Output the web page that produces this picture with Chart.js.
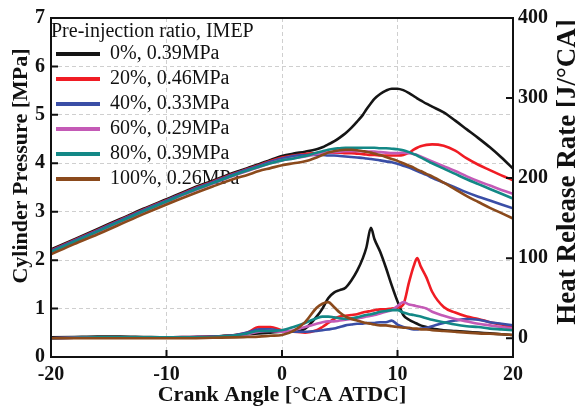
<!DOCTYPE html>
<html>
<head>
<meta charset="utf-8">
<script src="https://cdn.jsdelivr.net/npm/chart.js@4/dist/chart.umd.min.js"></script>
<style>
html,body{margin:0;padding:0;background:#fff;}
#wrap{width:575px;height:410px;position:relative;}
</style>
</head>
<body>
<div id="wrap"><canvas id="c" width="575" height="410"></canvas></div>
<script>
// ---- data ----
const angles = [-20,-18,-16,-14,-12,-10,-8,-6,-4,-3,-2,-1,0,1,2,3,3.5,4,4.5,5,5.5,6,6.5,7,7.3,7.7,8,8.5,9,9.5,10,10.5,11,11.4,11.7,12,12.5,13,14,15,16,17,18,19,20];
const seriesNames = ['0%, 0.39MPa','20%, 0.46MPa','40%, 0.33MPa','60%, 0.29MPa','80%, 0.39MPa','100%, 0.26MPa'];
const seriesColors = ['#151515','#f01c24','#3a4ea6','#c45ab6','#138886','#8b4a1c'];

// Cylinder pressure [MPa]
const p0   = [2.22,2.43,2.64,2.85,3.06,3.26,3.46,3.64,3.82,3.90,3.98,4.07,4.15,4.20,4.24,4.29,4.33,4.39,4.45,4.53,4.62,4.73,4.86,5.00,5.11,5.24,5.33,5.43,5.50,5.54,5.54,5.51,5.45,5.39,5.34,5.30,5.23,5.17,5.05,4.88,4.70,4.52,4.33,4.12,3.89];
const p20  = [2.20,2.41,2.62,2.83,3.04,3.24,3.44,3.62,3.80,3.88,3.96,4.05,4.12,4.16,4.19,4.21,4.22,4.22,4.22,4.22,4.21,4.21,4.20,4.19,4.18,4.17,4.17,4.16,4.16,4.16,4.16,4.17,4.22,4.28,4.32,4.35,4.38,4.39,4.36,4.26,4.10,3.97,3.86,3.75,3.65];
const p40  = [2.19,2.40,2.61,2.82,3.03,3.23,3.43,3.61,3.79,3.87,3.95,4.03,4.10,4.15,4.17,4.17,4.17,4.16,4.16,4.15,4.14,4.13,4.12,4.11,4.10,4.09,4.08,4.06,4.04,4.02,3.99,3.95,3.91,3.87,3.84,3.81,3.76,3.70,3.60,3.50,3.40,3.31,3.23,3.15,3.07];
const p60  = [2.16,2.37,2.58,2.79,3.00,3.20,3.40,3.58,3.76,3.84,3.92,4.00,4.06,4.10,4.14,4.19,4.21,4.22,4.23,4.24,4.25,4.25,4.25,4.25,4.24,4.24,4.24,4.23,4.22,4.21,4.21,4.22,4.21,4.19,4.17,4.14,4.09,4.04,3.94,3.84,3.73,3.63,3.54,3.45,3.37];
const p80  = [2.17,2.38,2.59,2.80,3.01,3.21,3.41,3.59,3.77,3.85,3.93,4.00,4.06,4.10,4.15,4.22,4.25,4.28,4.30,4.31,4.32,4.32,4.32,4.32,4.32,4.32,4.32,4.31,4.31,4.30,4.29,4.27,4.23,4.19,4.16,4.12,4.06,4.00,3.89,3.78,3.67,3.57,3.47,3.37,3.27];
const p100 = [2.12,2.33,2.53,2.74,2.95,3.15,3.34,3.52,3.69,3.76,3.84,3.90,3.96,4.00,4.04,4.12,4.17,4.22,4.25,4.27,4.28,4.28,4.27,4.25,4.24,4.22,4.20,4.17,4.13,4.09,4.05,4.00,3.95,3.91,3.87,3.84,3.78,3.73,3.60,3.46,3.32,3.20,3.08,2.97,2.86];

// Heat release rate [J/°CA]
const h0   = [1,1.5,2,2,1.5,1,1,2,4,5,6,7,8,8,12,27,37,50,57,60,63,72,84,100,113,138,124,108,88,66,46,29,23,20,18,16,14,12,10,9,8,7,6,5,4];
const h20  = [0,0.5,1,1,1,1,1.5,2,4,7,14,14,10,8,7,10,14,19,24,27,28,29,30,32,33,34,35,36,36,37,38,42,70,90,100,90,76,58,39,32,27,24,20,17,13];
const h40  = [0,0.5,1,1,1,1,1.5,2,4,7,11,11,9,8,8,9,10,11,12,14,16,17,18,18,19,19,19,20,20,22,17,14,12,11,11,12,13,15,19,22,24,23,20,18,16];
const h60  = [0,0.5,1,1,1,1,1,1,3,5,8,9,8,10,14,18,20,21,21,22,23,24,25,26,27,28,29,31,33,35,40,45,42,41,40,39,37,33,28,24,21,18,16,14,12];
const h80  = [0,0.5,1,1,1,1,1,1.5,3.5,6,9,9,10,14,19,25,27,27,26,25,24,25,26,28,29,30,31,33,34,35,35,32,30,29,28,27,25,23,20,17,15,14,12,11,10];
const h100 = [0,0,0,0,0,0,0,0.5,1,1.5,2,3,4,9,20,38,43,45,39,32,27,24,22,20,19,18,17,16,16,15,14,13,13,12,12,11,11,10,9,8,7,6,5.5,5,4];

const pressureSeries = [p0,p20,p40,p60,p80,p100];
const hrrSeries = [h0,h20,h40,h60,h80,h100];
const xTicks = [-20,-10,0,10,20];
const leftTicks = [0,1,2,3,4,5,6,7];
const rightTicks = [0,100,200,300,400];
const leftTitle = 'Cylinder Pressure [MPa]';
const rightTitle = 'Heat Release Rate [J/°CA]';

const SERIF = "'Liberation Serif','Times New Roman',serif";
const drawOrder = [6,5,4,3,2,1];

function pts(arr){ return angles.map((a,i)=>({x:a,y:arr[i]})); }

const datasets = [];
pressureSeries.forEach((arr,i)=>{
  datasets.push({label:seriesNames[i], data:pts(arr), yAxisID:'y', borderColor:seriesColors[i], backgroundColor:seriesColors[i],
    borderWidth:2.6, pointRadius:0, cubicInterpolationMode:'monotone', order:drawOrder[i]});
});
hrrSeries.forEach((arr,i)=>{
  datasets.push({label:seriesNames[i]+' HRR', data:pts(arr), yAxisID:'y2', borderColor:seriesColors[i], backgroundColor:seriesColors[i],
    borderWidth:2.6, pointRadius:0, cubicInterpolationMode:'monotone', order:drawOrder[i]});
});

const framePlugin = {
  id:'frame',
  afterDatasetsDraw(chart){
    const {ctx, chartArea:a, scales} = chart;
    ctx.save();
    ctx.strokeStyle = '#111';
    ctx.lineWidth = 2;
    ctx.strokeRect(a.left, a.top, a.right-a.left, a.bottom-a.top);
    const L = 7;
    ctx.beginPath();
    leftTicks.forEach(v=>{ if(v<=0||v>=7) return; const y=scales.y.getPixelForValue(v); ctx.moveTo(a.left,y); ctx.lineTo(a.left+L,y); });
    xTicks.forEach(v=>{ if(v<=-20||v>=20) return; const x=scales.x.getPixelForValue(v); ctx.moveTo(x,a.bottom); ctx.lineTo(x,a.bottom-L); });
    rightTicks.forEach(v=>{ if(v>=400) return; const y=scales.y2.getPixelForValue(v); ctx.moveTo(a.right,y); ctx.lineTo(a.right-L,y); });
    ctx.stroke();
    ctx.restore();
  },
  afterDraw(chart){
    const {ctx} = chart;
    ctx.save();
    ctx.fillStyle = '#111';
    ctx.textAlign = 'center';
    ctx.textBaseline = 'alphabetic';
    // left axis title, reading bottom to top
    ctx.save();
    ctx.translate(27, 166);
    ctx.rotate(-Math.PI/2);
    ctx.font = "bold 22px " + SERIF;
    ctx.fillText(leftTitle, 0, 0);
    ctx.restore();
    // right axis title, reading bottom to top
    ctx.save();
    ctx.translate(575, 172);
    ctx.rotate(-Math.PI/2);
    ctx.font = "bold 27px " + SERIF;
    ctx.fillText(rightTitle, 0, 0);
    ctx.restore();
    ctx.restore();
  }
};

const tickFont = {family:SERIF, size:20, weight:'bold'};
const titleFont = {family:SERIF, size:22, weight:'bold'};

new Chart(document.getElementById('c'), {
  type:'line',
  data:{datasets},
  plugins:[framePlugin],
  options:{
    responsive:false,
    animation:false,
    devicePixelRatio:1,
    layout:{padding:{top:14,left:0,right:0,bottom:0}},
    plugins:{
      tooltip:{enabled:false},
      legend:{
        position:'chartArea',
        align:'start',
        title:{display:true, text:'Pre-injection ratio, IMEP', color:'#111', position:'start',
          font:{family:SERIF, size:20, lineHeight:1}, padding:{top:22,bottom:-3}},
        labels:{
          color:'#111',
          font:{family:SERIF, size:20},
          boxWidth:44, boxHeight:4, padding:5,
          generateLabels(chart){
            return Chart.defaults.plugins.legend.labels.generateLabels(chart)
              .filter(l=>l.datasetIndex<6)
              .sort((a,b)=>a.datasetIndex-b.datasetIndex)
              .map(l=>Object.assign(l,{fillStyle:seriesColors[l.datasetIndex], strokeStyle:seriesColors[l.datasetIndex], lineWidth:0}));
          }
        }
      }
    },
    scales:{
      x:{type:'linear', min:-20, max:20,
        afterBuildTicks(s){ s.ticks = xTicks.map(v=>({value:v})); },
        afterFit(s){ s.height = 53; },
        ticks:{color:'#111', font:tickFont, padding:6, maxRotation:0, autoSkip:false},
        grid:{color:'#cfcfcf', drawTicks:false, lineWidth:1},
        border:{display:false, dash:[4,3]},
        title:{display:true, text:'Crank Angle [°CA ATDC]', color:'#111', font:titleFont, padding:{top:0,bottom:1}}
      },
      y:{type:'linear', position:'left', min:0, max:7,
        afterBuildTicks(s){ s.ticks = leftTicks.map(v=>({value:v})); },
        afterFit(s){ s.width = 51; },
        ticks:{color:'#111', font:tickFont, padding:6},
        grid:{color:'#cfcfcf', drawTicks:false, lineWidth:1},
        border:{display:false, dash:[4,3]},
        title:{display:false}
      },
      y2:{type:'linear', position:'right', min:-23.5, max:400,
        afterBuildTicks(s){ s.ticks = rightTicks.map(v=>({value:v})); },
        afterFit(s){ s.width = 62; },
        ticks:{color:'#111', font:tickFont, padding:5},
        grid:{display:false, drawTicks:false},
        border:{display:false},
        title:{display:false}
      }
    }
  }
});
</script>
</body>
</html>
